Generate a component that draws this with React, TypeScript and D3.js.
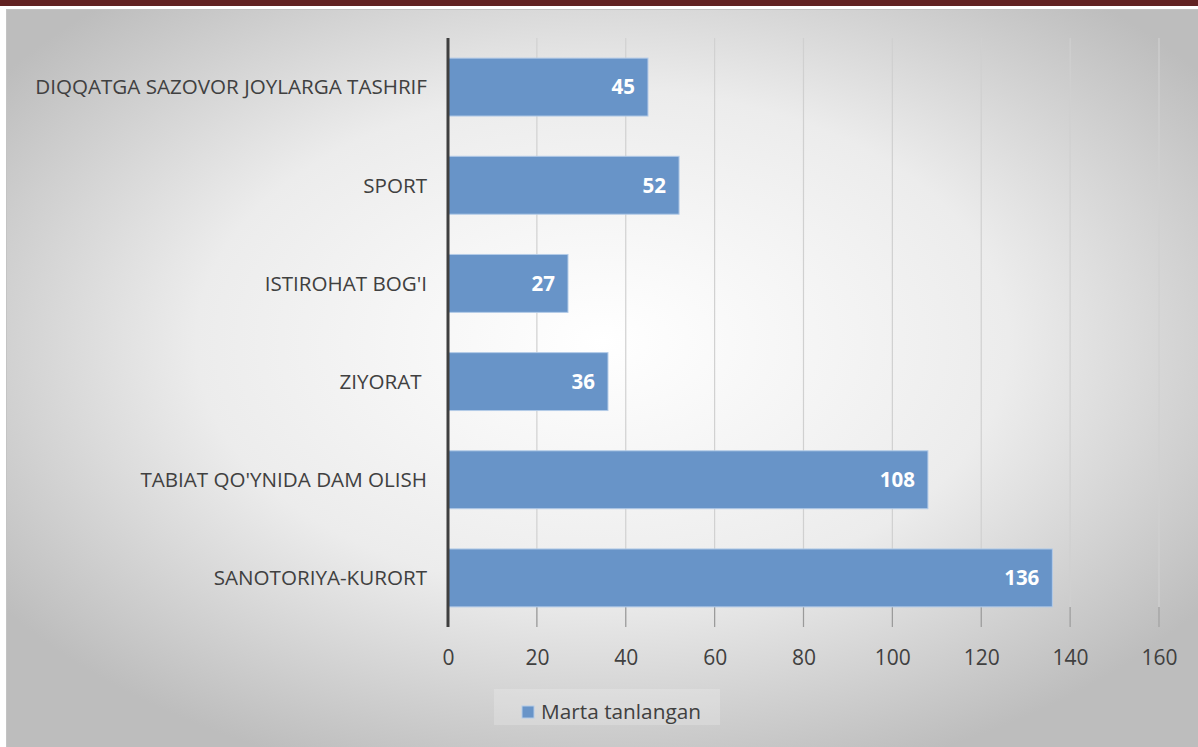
import { useRef, useEffect } from "react";
import * as d3 from "d3";

const categories = [
  "DIQQATGA SAZOVOR JOYLARGA TASHRIF",
  "SPORT",
  "ISTIROHAT BOG'I",
  "ZIYORAT ",
  "TABIAT QO'YNIDA DAM OLISH",
  "SANOTORIYA-KURORT",
];
const values = [45, 52, 27, 36, 108, 136];
const xTicks = [0, 20, 40, 60, 80, 100, 120, 140, 160];
const seriesName = "Marta tanlangan";

const W = 1198;
const H = 747;

export default function App() {
  const svgRef = useRef<SVGSVGElement>(null);

  useEffect(() => {
    const svg = d3.select(svgRef.current);
    svg.selectAll("*").remove();
    svg.style("font-family", "'Open Sans', sans-serif");

    const margin = { top: 38, left: 448, right: 39, bottom: 120 };

    // fon
    const defs = svg.append("defs");
    const grad = defs
      .append("radialGradient")
      .attr("id", "bg")
      .attr("cx", "50%")
      .attr("cy", "45%")
      .attr("r", "62%");
    grad.append("stop").attr("offset", "0%").attr("stop-color", "#ffffff");
    grad.append("stop").attr("offset", "55%").attr("stop-color", "#ececec");
    grad.append("stop").attr("offset", "100%").attr("stop-color", "#bdbdbd");

    svg.append("rect").attr("width", W).attr("height", H).attr("fill", "#ffffff");
    svg.append("rect").attr("x", 0).attr("y", 0).attr("width", W).attr("height", 6).attr("fill", "#622222");
    svg
      .append("rect")
      .attr("x", 6.5)
      .attr("y", 9.5)
      .attr("width", W - 6)
      .attr("height", H - 9)
      .attr("fill", "url(#bg)")
      .attr("stroke", "#c4c4c4")
      .attr("stroke-width", 1);

    const x = d3
      .scaleLinear()
      .domain([0, 160])
      .range([margin.left, W - margin.right]);

    const y = d3
      .scaleBand()
      .domain(categories)
      .range([margin.top, H - margin.bottom])
      .paddingInner(0.41)
      .paddingOuter(0.205);

    // ruudukko
    svg
      .append("g")
      .selectAll("line")
      .data(xTicks.slice(1))
      .join("line")
      .attr("x1", (d) => x(d))
      .attr("x2", (d) => x(d))
      .attr("y1", margin.top)
      .attr("y2", H - margin.bottom)
      .attr("stroke", "#d0d0d0")
      .attr("stroke-width", 1.2);

    // tick marks below bars
    svg
      .append("g")
      .selectAll("line")
      .data(xTicks.slice(1))
      .join("line")
      .attr("x1", (d) => x(d))
      .attr("x2", (d) => x(d))
      .attr("y1", H - margin.bottom - 20)
      .attr("y2", H - margin.bottom)
      .attr("stroke", "#9a9a9a")
      .attr("stroke-width", 1.2);

    // palkit
    svg
      .append("g")
      .selectAll("rect")
      .data(values)
      .join("rect")
      .attr("x", x(0))
      .attr("y", (d, i) => y(categories[i])!)
      .attr("width", (d) => x(d) - x(0))
      .attr("height", y.bandwidth())
      .attr("fill", "#6894c8")
      .attr("stroke", "#b3cbe8")
      .attr("stroke-width", 1);

    // arvot
    svg
      .append("g")
      .selectAll("text")
      .data(values)
      .join("text")
      .text((d) => d)
      .attr("x", (d) => x(d) - 13)
      .attr("y", (d, i) => y(categories[i])! + y.bandwidth() / 2)
      .attr("dy", "0.36em")
      .attr("text-anchor", "end")
      .attr("fill", "#ffffff")
      .attr("font-weight", "bold")
      .attr("font-size", "20.5px");

    // y-akseli
    svg
      .append("line")
      .attr("x1", x(0))
      .attr("x2", x(0))
      .attr("y1", margin.top)
      .attr("y2", H - margin.bottom)
      .attr("stroke", "#3f3f3f")
      .attr("stroke-width", 3);

    svg
      .append("g")
      .selectAll("text")
      .data(categories)
      .join("text")
      .text((d) => d)
      .attr("x", 427)
      .attr("y", (d) => y(d)! + y.bandwidth() / 2)
      .attr("dy", "0.36em")
      .attr("text-anchor", "end")
      .attr("fill", "#404040")
      .attr("font-size", "20.6px")
      .style("white-space", "pre");

    // x-akseli tekstit
    svg
      .append("g")
      .attr("transform", `translate(0, ${H - margin.bottom})`)
      .call(d3.axisBottom(x).tickValues(xTicks).tickSize(0).tickPadding(23))
      .call((g) => g.select(".domain").remove())
      .selectAll("text")
      .attr("fill", "#404040")
      .style("font-size", "21px")
      .style("font-family", "'Open Sans', sans-serif");

    // selite
    svg
      .append("rect")
      .attr("x", 494)
      .attr("y", 689)
      .attr("width", 226)
      .attr("height", 36)
      .attr("fill", "#ffffff")
      .attr("opacity", 0.2);
    svg
      .append("rect")
      .attr("x", 522)
      .attr("y", 706)
      .attr("width", 12)
      .attr("height", 12)
      .attr("fill", "#6894c8")
      .attr("stroke", "#b3cbe8");
    svg
      .append("text")
      .text(seriesName)
      .attr("x", 541)
      .attr("y", 712)
      .attr("dy", "0.36em")
      .attr("fill", "#404040")
      .attr("font-size", "20.8px");
  }, []);

  return (
    <svg
      ref={svgRef}
      width={W}
      height={H}
      style={{ position: "absolute", left: 0, top: 0, display: "block" }}
    ></svg>
  );
}
